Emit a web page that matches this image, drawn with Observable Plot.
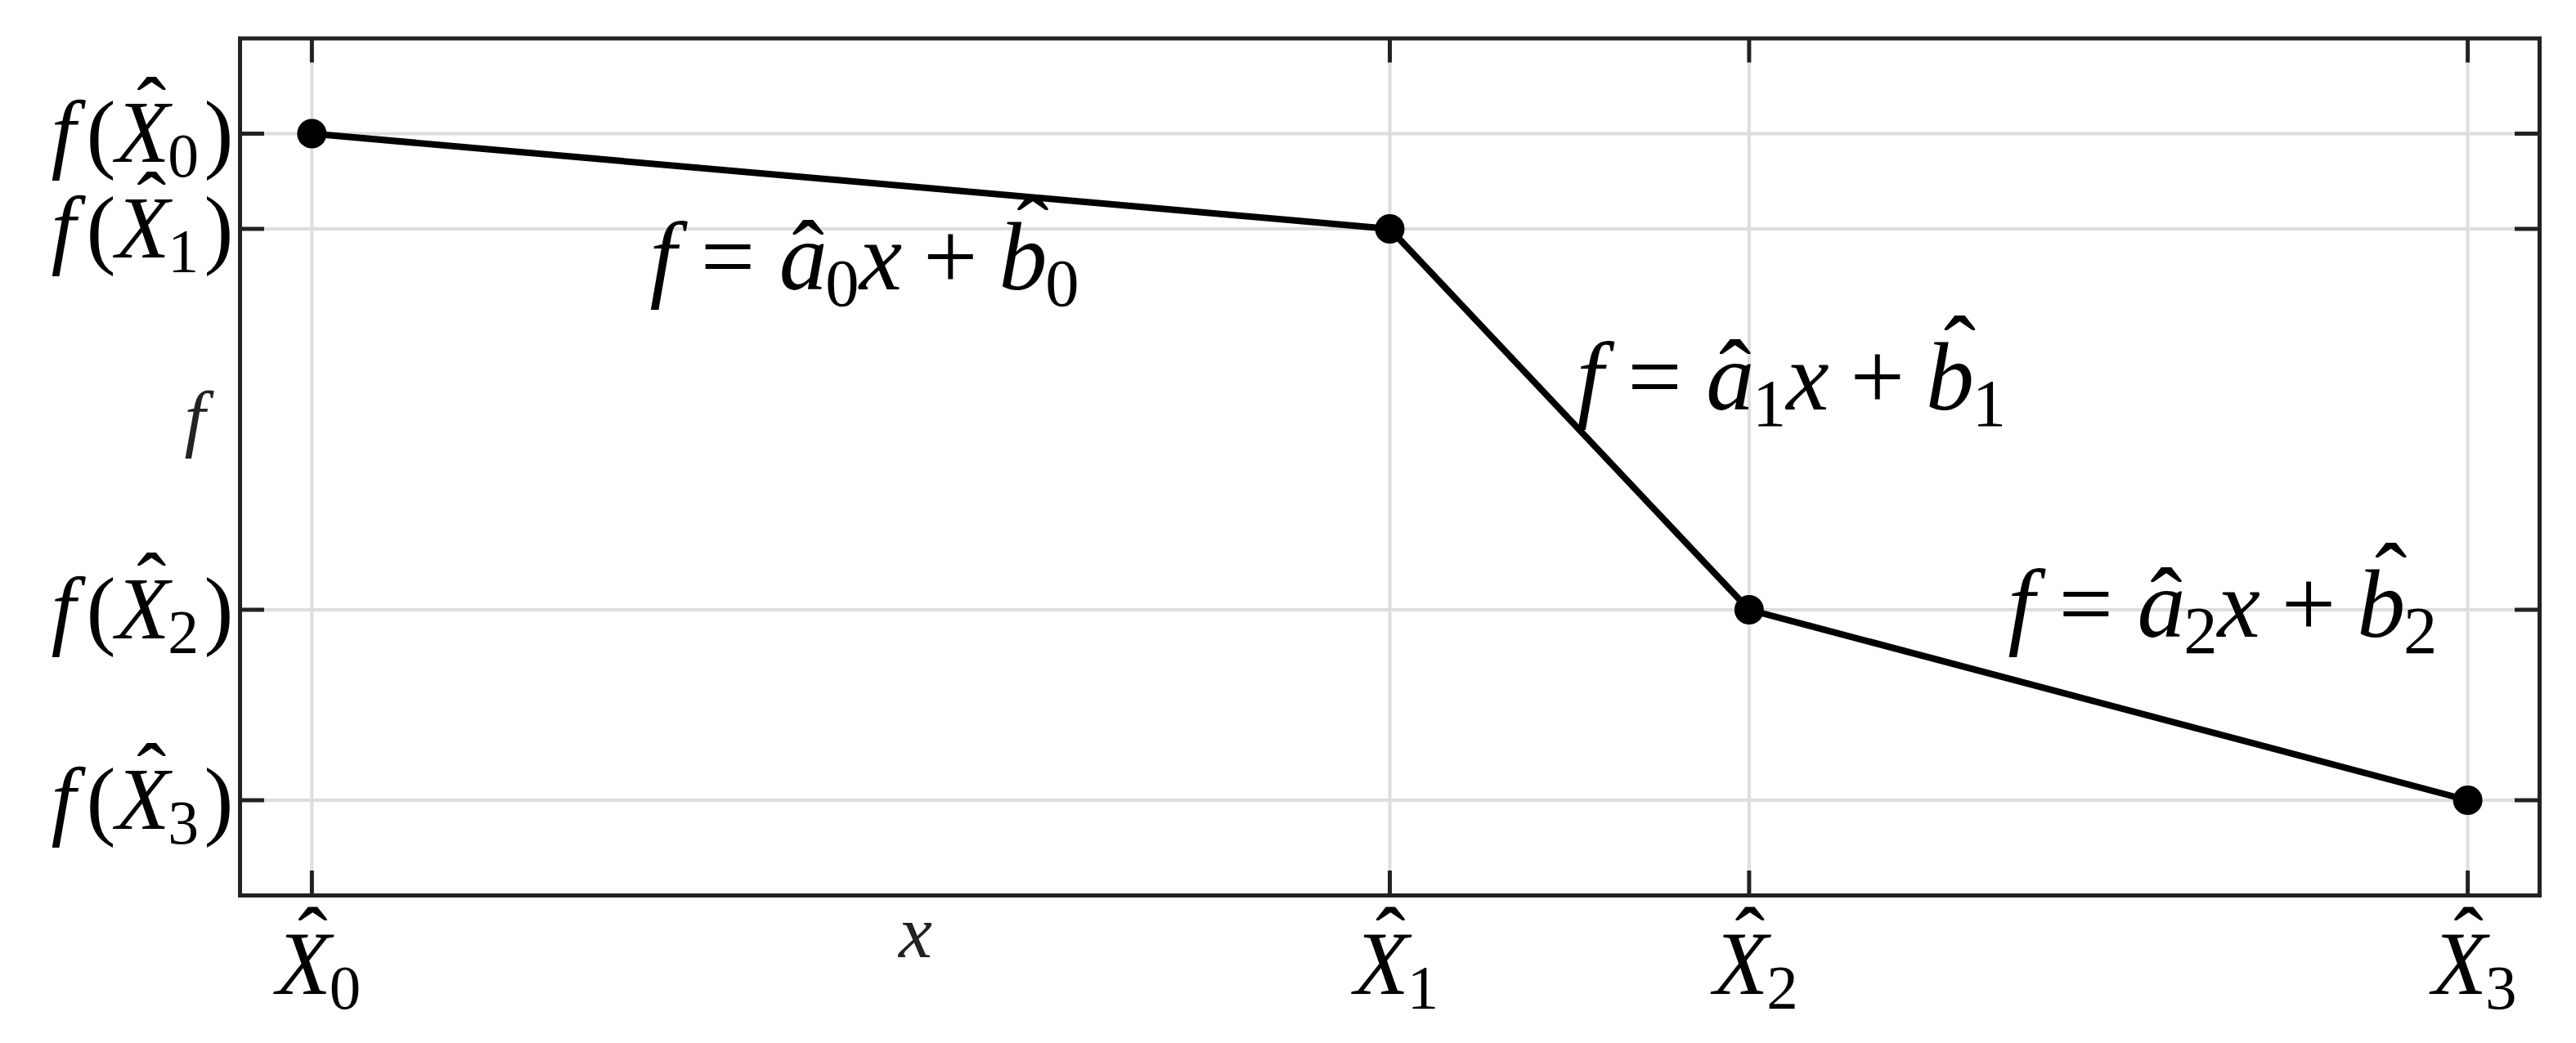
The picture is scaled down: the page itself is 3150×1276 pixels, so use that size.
<!DOCTYPE html>
<html><head><meta charset="utf-8">
<script src="https://cdn.jsdelivr.net/npm/d3@7"></script>
<script src="https://cdn.jsdelivr.net/npm/@observablehq/plot@0.6"></script>
<style>
html,body{margin:0;padding:0;background:#fff;}
svg{display:block;}
svg text, svg tspan{font-family:"Liberation Serif","DejaVu Serif",serif !important;}
</style>
</head><body><div id="chart"></div>
<script>
// ---- data ----
const knotX = [0, 1.5, 2, 3];
const knotF = [7, 6, 2, 0];
const xTickLabels = ["\\hat{X}_0", "\\hat{X}_1", "\\hat{X}_2", "\\hat{X}_3"];
const yTickLabels = ["f(\\hat{X}_0)", "f(\\hat{X}_1)", "f(\\hat{X}_2)", "f(\\hat{X}_3)"];
const segmentLabels = ["f = \\hat{a}_0x + \\hat{b}_0", "f = \\hat{a}_1x + \\hat{b}_1", "f = \\hat{a}_2x + \\hat{b}_2"];
const segmentLabelX = [0.47, 1.76, 2.36];
const segmentLabelY = [5.69, 4.43, 2.04];
const xLabel = "x";
const yLabel = "f";
const xLabelAt = 0.84;
const yLabelAt = 4;

// ---- layout ----
const W = 3150, H = 1276, mL = 293, mR = 45, mT = 46.5, mB = 181;
const fw = W - mL - mR, fh = H - mT - mB;
const points = knotX.map((x, i) => ({x, f: knotF[i]}));

const chart = Plot.plot({
  width: W, height: H,
  marginLeft: mL, marginRight: mR, marginTop: mT, marginBottom: mB,
  style: {fontFamily: "'Liberation Serif', serif", background: "#fff", color: "#000"},
  x: {domain: [-0.1, 3.1]},
  y: {domain: [-1, 8]},
  marks: [
    Plot.gridX(knotX, {stroke: "#dedede", strokeOpacity: 1, strokeWidth: 4}),
    Plot.gridY(knotF, {stroke: "#dedede", strokeOpacity: 1, strokeWidth: 4}),
    Plot.tickX(knotX, {x: d => d, stroke: "#222", strokeWidth: 5, insetTop: fh - 30}),
    Plot.tickX(knotX, {x: d => d, stroke: "#222", strokeWidth: 5, insetBottom: fh - 30}),
    Plot.tickY(knotF, {y: d => d, stroke: "#222", strokeWidth: 5, insetRight: fw - 30}),
    Plot.tickY(knotF, {y: d => d, stroke: "#222", strokeWidth: 5, insetLeft: fw - 30}),
    Plot.frame({stroke: "#222", strokeWidth: 5}),
    Plot.line(points, {x: "x", y: "f", stroke: "#000", strokeWidth: 8}),
    Plot.dot(points, {x: "x", y: "f", r: 18, fill: "#000", stroke: null}),
    Plot.axisX(knotX, {tickSize: 0, tickPadding: 42, fontSize: 110, label: null, dx: 8,
      tickFormat: d => xTickLabels[knotX.indexOf(d)]}),
    Plot.axisY(knotF, {tickSize: 0, tickPadding: 8, fontSize: 108, label: null,
      tickFormat: d => yTickLabels[knotF.indexOf(d)]}),
    Plot.text(segmentLabels, {x: (d, i) => segmentLabelX[i], y: (d, i) => segmentLabelY[i],
      text: d => d, textAnchor: "start", lineAnchor: "middle", fontSize: 118, fill: "#000"}),
    Plot.text([xLabel], {x: () => xLabelAt, frameAnchor: "bottom", lineAnchor: "middle", dy: 46,
      text: d => d, fontSize: 92, fill: "#222"}),
    Plot.text([yLabel], {y: () => yLabelAt, frameAnchor: "left", lineAnchor: "middle", dx: -68,
      text: d => d, fontSize: 92, fill: "#222"})
  ]
});
document.getElementById("chart").append(chart);

// ---- math-style text rendering (italic letters, hats, subscripts) ----
const NS = "http://www.w3.org/2000/svg";
function tokenize(src) {
  const toks = [];
  let i = 0;
  while (i < src.length) {
    const c = src[i];
    if (src.startsWith("\\hat{", i)) { toks.push({t: src[i + 5], hat: true}); i += 7; continue; }
    if (c === "_") { toks.push({t: src[i + 1], sub: true}); i += 2; continue; }
    if (c === " ") { i++; continue; }
    if (/[A-Za-z]/.test(c)) toks.push({t: c, italic: true});
    else if (c === "=" || c === "+") toks.push({t: c, op: true});
    else toks.push({t: c});
    i++;
  }
  return toks;
}
function renderMath(el) {
  const src = el.textContent;
  el.setAttribute("font-family", "Liberation Serif");
  const fs = parseFloat(getComputedStyle(el).fontSize);
  const toks = tokenize(src);
  while (el.firstChild) el.removeChild(el.firstChild);
  let cur = 0, pend = 0;
  const add = (txt, o = {}) => {
    const t = document.createElementNS(NS, "tspan");
    t.textContent = txt;
    if (o.italic) t.setAttribute("font-style", "italic");
    if (o.size) t.setAttribute("font-size", o.size);
    const target = o.shift || 0;
    const dy = target - cur; cur = target;
    if (dy) t.setAttribute("dy", dy);
    const dx = (o.dx || 0) + pend; pend = 0;
    if (dx) t.setAttribute("dx", dx);
    el.appendChild(t);
    return t;
  };
  let prev = null;
  for (const k of toks) {
    if (k.sub) add(k.t, {size: 0.7 * fs, shift: 0.17 * fs, dx: -0.02 * fs});
    else if (k.op) { const sp = (k.t === "=" ? 0.25 : 0.22) * fs; add(k.t, {dx: sp}); pend = sp; }
    else if (k.hat) {
      const base = add(k.t, {italic: true});
      const bw = base.getComputedTextLength();
      const tall = /[A-Zbdfhklt]/.test(k.t);
      const hat = add("\u02C6", {shift: tall ? -0.27 * fs : -0.02 * fs});
      const hw = hat.getComputedTextLength();
      const s = (tall ? 0.1 : 0.05) * fs;
      const a = bw / 2 + hw / 2 - s;
      hat.setAttribute("dx", -a);
      pend = a - hw;
    } else if (k.t === "(") add(k.t, {dx: prev && prev.t === "f" ? 0.12 * fs : 0});
    else if (k.t === ")") add(k.t, {dx: 0.06 * fs});
    else add(k.t, {italic: k.italic});
    prev = k;
  }
}
d3.select(chart).selectAll("text").each(function () { renderMath(this); });
</script>
</body></html>
